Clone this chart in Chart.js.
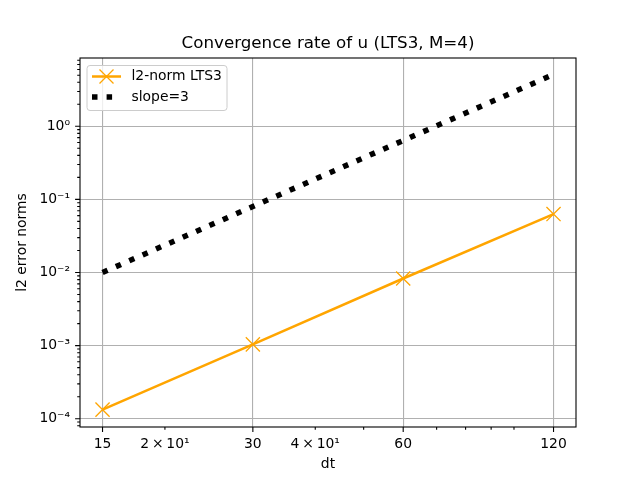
<!DOCTYPE html>
<html><head><meta charset="utf-8">
<script src="https://cdn.jsdelivr.net/npm/chart.js@4"></script>
<style>html,body{margin:0;padding:0;background:#fff}</style>
</head><body>
<canvas id="c" width="640" height="480"></canvas>
<script>
const dtValues = [15, 30, 60, 120];
const l2NormLTS3 = [1.33e-4, 1.04e-3, 8.28e-3, 6.3e-2];
const slope3 = [0.01, 0.08, 0.64, 5.12];
const xMajorTicks = [15, 30, 60, 120];
const xMinorTicks = [20, 40, 50, 70, 80, 90, 100];
const xMinorLabels = {20: '2\u2009\u00d7\u200910\u00b9', 40: '4\u2009\u00d7\u200910\u00b9'};
const yMajorTicks = [1e-4, 1e-3, 1e-2, 1e-1, 1];
const yMajorLabels = ['10\u207b\u2074', '10\u207b\u00b3', '10\u207b\u00b2', '10\u207b\u00b9', '10\u2070'];
const chartTitle = 'Convergence rate of u (LTS3, M=4)';

const X_MIN = 13.52, X_MAX = 133.1, Y_MIN = 7.7e-5, Y_MAX = 8.6;
const FONT = 'DejaVu Sans';

const yMinorTicks = [];
for (let e = -5; e <= 0; e++) {
  for (let m = 2; m <= 9; m++) {
    const v = m * Math.pow(10, e);
    if (v >= Y_MIN && v <= Y_MAX) yMinorTicks.push(v);
  }
}
const isMajor = (list, v) => list.some(t => Math.abs(t - v) / t < 1e-6);

const framePlugin = {
  id: 'frame',
  afterDraw(chart) {
    const {ctx, chartArea: a, scales: {x, y}} = chart;
    ctx.save();
    // title centred over the axes
    ctx.font = '16.7px "' + FONT + '"';
    ctx.fillStyle = '#000';
    ctx.textAlign = 'center';
    ctx.textBaseline = 'middle';
    ctx.fillText(chartTitle, (a.left + a.right) / 2, a.top - 14);

    ctx.strokeStyle = '#000';
    ctx.lineWidth = 1.1;
    ctx.beginPath();
    xMajorTicks.forEach(v => { const p = x.getPixelForValue(v); ctx.moveTo(p, a.bottom); ctx.lineTo(p, a.bottom + 4.9); });
    xMinorTicks.forEach(v => { const p = x.getPixelForValue(v); ctx.moveTo(p, a.bottom); ctx.lineTo(p, a.bottom + 2.8); });
    yMajorTicks.forEach(v => { const p = y.getPixelForValue(v); ctx.moveTo(a.left, p); ctx.lineTo(a.left - 4.9, p); });
    yMinorTicks.forEach(v => { const p = y.getPixelForValue(v); ctx.moveTo(a.left, p); ctx.lineTo(a.left - 2.8, p); });
    ctx.stroke();
    ctx.strokeRect(a.left, a.top, a.right - a.left, a.bottom - a.top);

    // legend (matplotlib style, inside axes)
    const lx = a.left + 7, ly = a.top + 7.5, lw = 140, lh = 45;
    ctx.beginPath();
    ctx.roundRect(lx, ly, lw, lh, 3);
    ctx.fillStyle = 'rgba(255,255,255,0.8)';
    ctx.fill();
    ctx.strokeStyle = '#cccccc';
    ctx.lineWidth = 1;
    ctx.stroke();
    const ds = chart.data.datasets;
    ctx.font = '13.9px "' + FONT + '"';
    ctx.fillStyle = '#000';
    ctx.textBaseline = 'middle';
    ctx.textAlign = 'left';
    // entry 1
    let ey = ly + 11;
    ctx.strokeStyle = ds[0].borderColor;
    ctx.lineWidth = ds[0].borderWidth;
    ctx.beginPath(); ctx.moveTo(lx + 5, ey); ctx.lineTo(lx + 34, ey); ctx.stroke();
    ctx.lineWidth = ds[0].pointBorderWidth;
    const cx = lx + 19.5, r = 7;
    ctx.beginPath();
    ctx.moveTo(cx - r, ey - r); ctx.lineTo(cx + r, ey + r);
    ctx.moveTo(cx - r, ey + r); ctx.lineTo(cx + r, ey - r);
    ctx.stroke();
    ctx.fillText(ds[0].label, lx + 44.5, ey);
    // entry 2
    ey = ly + 31.5;
    ctx.strokeStyle = ds[1].borderColor;
    ctx.lineWidth = ds[1].borderWidth;
    ctx.setLineDash(ds[1].borderDash);
    ctx.beginPath(); ctx.moveTo(lx + 5, ey); ctx.lineTo(lx + 34, ey); ctx.stroke();
    ctx.setLineDash([]);
    ctx.fillText(ds[1].label, lx + 44.5, ey);
    ctx.restore();
  }
};

const toPts = (xs, ys) => xs.map((v, i) => ({x: v, y: ys[i]}));

new Chart(document.getElementById('c'), {
  type: 'line',
  data: {
    datasets: [
      {
        label: 'l2-norm LTS3',
        data: toPts(dtValues, l2NormLTS3),
        borderColor: '#ffa500',
        backgroundColor: '#ffa500',
        borderWidth: 2.5,
        pointStyle: 'crossRot',
        pointRadius: 10,
        pointHoverRadius: 10,
        pointBorderWidth: 1.3,
        pointBorderColor: '#ffa500',
        tension: 0,
        fill: false,
        order: 1
      },
      {
        label: 'slope=3',
        data: toPts(dtValues, slope3),
        borderColor: '#000000',
        borderWidth: 5.5,
        borderDash: [5.5, 9.1],
        borderCapStyle: 'butt',
        pointRadius: 0,
        pointHoverRadius: 0,
        tension: 0,
        fill: false,
        order: 0
      }
    ]
  },
  options: {
    responsive: false,
    animation: false,
    devicePixelRatio: 1,
    events: [],
    layout: {padding: {left: 0, right: 64, top: 58, bottom: 0}},
    plugins: {
      legend: {display: false},
      tooltip: {enabled: false},
      title: {display: false}
    },
    scales: {
      x: {
        type: 'logarithmic',
        min: X_MIN, max: X_MAX,
        afterFit(s) { s.height = 53; },
        afterBuildTicks(s) {
          s.ticks = [...xMajorTicks, ...xMinorTicks].sort((a, b) => a - b).map(v => ({value: v}));
        },
        ticks: {
          autoSkip: false, maxRotation: 0, minRotation: 0,
          padding: 9.5,
          color: '#000',
          font: {family: FONT, size: 13.9},
          callback(v) {
            if (isMajor(xMajorTicks, v)) return String(v);
            return xMinorLabels[v] || '';
          }
        },
        grid: {
          drawTicks: false,
          lineWidth: 1.1,
          color(ctx) { return ctx.tick && isMajor(xMajorTicks, ctx.tick.value) ? '#b0b0b0' : 'rgba(0,0,0,0)'; }
        },
        border: {display: false},
        title: {display: true, text: 'dt', color: '#000', font: {family: FONT, size: 13.9}, padding: {top: 7, bottom: 7}}
      },
      y: {
        type: 'logarithmic',
        min: Y_MIN, max: Y_MAX,
        afterFit(s) { s.width = 80; },
        afterBuildTicks(s) {
          s.ticks = [...yMajorTicks, ...yMinorTicks].sort((a, b) => a - b).map(v => ({value: v}));
        },
        ticks: {
          autoSkip: false,
          padding: 10,
          color: '#000',
          font: {family: FONT, size: 13.9},
          callback(v) {
            const i = yMajorTicks.findIndex(t => Math.abs(t - v) / t < 1e-6);
            return i >= 0 ? yMajorLabels[i] : '';
          }
        },
        grid: {
          drawTicks: false,
          lineWidth: 1.1,
          color(ctx) { return ctx.tick && isMajor(yMajorTicks, ctx.tick.value) ? '#b0b0b0' : 'rgba(0,0,0,0)'; }
        },
        border: {display: false},
        title: {display: true, text: 'l2 error norms', color: '#000', font: {family: FONT, size: 13.9}, padding: {top: 14, bottom: 14}}
      }
    }
  },
  plugins: [framePlugin]
});
</script>
</body></html>
